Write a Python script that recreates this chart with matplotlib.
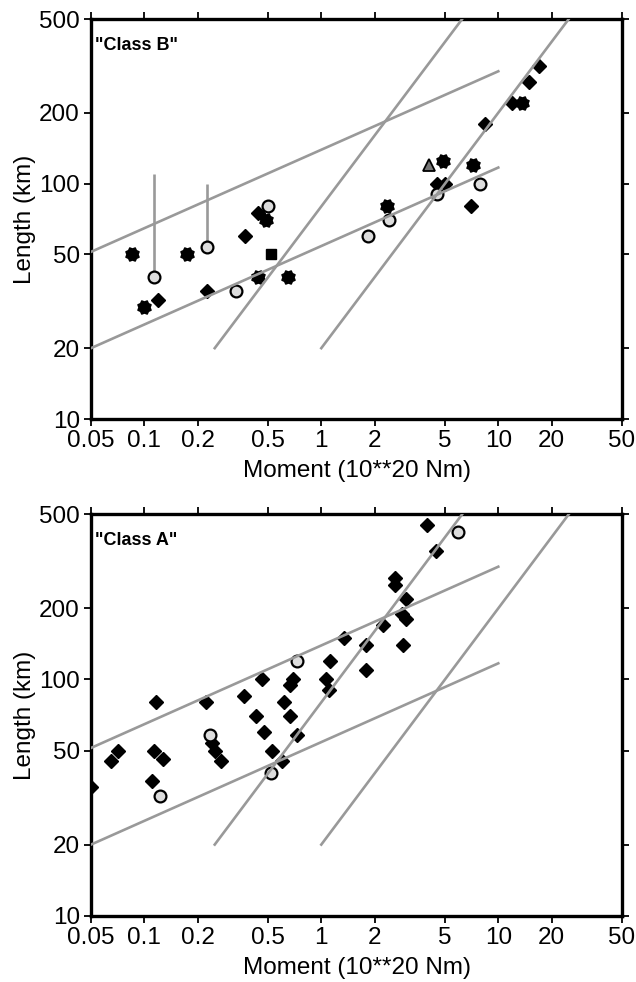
import numpy as np
import matplotlib
matplotlib.use("Agg")
import matplotlib.pyplot as plt
from matplotlib.path import Path

plt.rcParams['font.family'] = ['Liberation Sans', 'DejaVu Sans']

# ---- datos "Class B" (panel de arriba) ----
estrella_b_m = [0.085, 0.1, 0.175, 0.44, 0.49, 0.65, 2.36, 4.85, 7.2, 13.6]
estrella_b_l = [50, 30, 50, 40, 70, 40, 80, 125, 120, 220]
rombo_b_m = [0.12, 0.227, 0.37, 0.44, 4.5, 5.0, 7.0, 8.4, 12, 15, 17]
rombo_b_l = [32, 35, 60, 75, 100, 100, 80, 180, 220, 270, 315]
circulo_b_m = [0.114, 0.227, 0.33, 0.5, 1.83, 2.42, 4.5, 7.9]
circulo_b_l = [40, 54, 35, 80, 60, 70, 90, 100]
cuadrado_b_m = [0.52]
cuadrado_b_l = [50]
triangulo_b_m = [4.05]
triangulo_b_l = [120]
barra_b_m = [0.114, 0.227]
barra_b_bajo = [40, 54]
barra_b_alto = [110, 100]

# ---- datos "Class A" (panel de abajo) ----
rombo_a_m = [0.05, 0.065, 0.071, 0.11, 0.114, 0.117, 0.128, 0.223, 0.24, 0.25,
             0.27, 0.365, 0.43, 0.465, 0.476, 0.53, 0.6, 0.615, 0.665, 0.665,
             0.695, 0.725, 1.06, 1.1, 1.12, 1.34, 1.8, 1.8, 2.24, 2.6, 2.6,
             2.85, 2.88, 3.0, 3.0, 3.96, 4.45]
rombo_a_l = [35, 45, 50, 37, 50, 80, 46, 80, 54, 50,
             45, 85, 70, 100, 60, 50, 45, 80, 70, 95,
             100, 58, 100, 90, 120, 150, 140, 110, 170, 270, 250,
             190, 140, 220, 180, 450, 350]
circulo_a_m = [0.122, 0.235, 0.52, 0.725, 5.9]
circulo_a_l = [32, 58, 40, 120, 420]

# ---- rectas de escala (mismas en los dos paneles) ----
rectas_m = [[0.05, 10], [0.05, 10], [0.25, 6.25], [1, 25]]
rectas_l = [[51.3, 300], [20, 117], [20, 500], [20, 500]]

xticks = [0.05, 0.1, 0.2, 0.5, 1, 2, 5, 10, 20, 50]
yticks = [10, 20, 50, 100, 200, 500]

# marcador de estrella de 8 puntas
ang = np.arange(16) * np.pi / 8 + np.pi / 8
rad = np.where(np.arange(16) % 2 == 0, 1.0, 0.78)
verts = np.column_stack([rad * np.cos(ang), rad * np.sin(ang)])
verts = np.vstack([verts, verts[:1]])
estrella = Path(verts, [Path.MOVETO] + [Path.LINETO] * 15 + [Path.CLOSEPOLY])

gris = '#999999'


def preparar(ax, titulo):
    ax.set_xscale('log')
    ax.set_yscale('log')
    ax.set_xlim(0.05, 50)
    ax.set_ylim(10, 500)
    ax.set_xticks(xticks)
    ax.set_xticklabels([f"{t:g}" for t in xticks])
    ax.set_yticks(yticks)
    ax.set_yticklabels([str(t) for t in yticks])
    ax.minorticks_off()
    ax.tick_params(direction='out', length=5, width=1.3, labelsize=17.5,
                   top=True, right=True, pad=3)
    for s in ax.spines.values():
        s.set_linewidth(2.4)
    ax.set_xlabel("Moment (10**20 Nm)", fontsize=17.5, labelpad=6)
    ax.set_ylabel("Length (km)", fontsize=17.5, labelpad=2)
    ax.text(0.008, 0.955, titulo, transform=ax.transAxes, fontsize=13,
            fontweight='bold', va='top', ha='left')
    for m, l in zip(rectas_m, rectas_l):
        ax.plot(m, l, color=gris, lw=1.9, zorder=4)


fig = plt.figure(figsize=(6.36, 9.82), dpi=100)
ax1 = fig.add_axes([0.1431, 0.5733, 0.8349, 0.4073])
ax2 = fig.add_axes([0.1431, 0.0675, 0.8349, 0.4088])

preparar(ax1, '"Class B"')
ax1.vlines(barra_b_m, barra_b_bajo, barra_b_alto, color=gris, lw=1.9, zorder=2)
ax1.plot(estrella_b_m, estrella_b_l, ls='none', marker=estrella, ms=9.5,
         color='black', zorder=3)
ax1.plot(rombo_b_m, rombo_b_l, ls='none', marker='D', ms=6.8, color='black',
         zorder=3)
ax1.plot(circulo_b_m, circulo_b_l, ls='none', marker='o', ms=8.5,
         mfc='#dddddd', mec='black', mew=1.6, zorder=3)
ax1.plot(cuadrado_b_m, cuadrado_b_l, ls='none', marker='s', ms=7.2,
         color='black', zorder=3)
ax1.plot(triangulo_b_m, triangulo_b_l, ls='none', marker='^', ms=8,
         mfc='#777777', mec='black', mew=1.3, zorder=3)

preparar(ax2, '"Class A"')
ax2.plot(rombo_a_m, rombo_a_l, ls='none', marker='D', ms=6.8, color='black',
         zorder=3)
ax2.plot(circulo_a_m, circulo_a_l, ls='none', marker='o', ms=8.5,
         mfc='#dddddd', mec='black', mew=1.6, zorder=3)

fig.savefig("out.png", dpi=100)
